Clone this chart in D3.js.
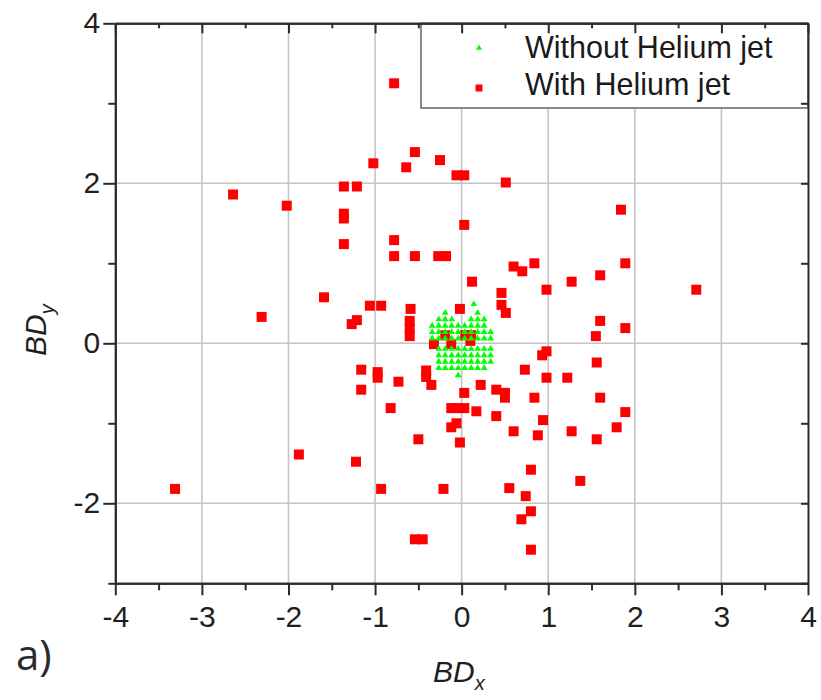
<!DOCTYPE html>
<html>
<head>
<meta charset="utf-8">
<script src="https://cdn.jsdelivr.net/npm/d3@7"></script>
<style>
  html, body { margin: 0; padding: 0; background: #fff; }
  svg { display: block; }
</style>
</head>
<body>
<svg id="chart" width="821" height="700"></svg>
<script>
// ---------------- DATA ----------------
const xTicks = [-4, -3, -2, -1, 0, 1, 2, 3, 4];
const yTicks = [-2, 0, 2, 4];
const xGrid = [-3, -2, -1, 0, 1, 2, 3];
const yGrid = [-2, 0, 2];
const seriesNames = ["Without Helium jet", "With Helium jet"];

// With Helium jet (red squares)
const redX = [-0.78, -2.64, -2.02, -1.36, -1.21, -1.36, -1.36, -1.36, -1.02, -0.54,
  -0.64, -0.25, -0.06, 0.03, 0.51, 0.03, -0.78, -0.78, -0.54, -0.27,
  -0.18, -1.59, -2.31, -1.06, -0.93, -1.27, -1.21, -0.59, -0.60, -0.60,
  -0.60, -0.02, 0.12, 0.46, 0.46, 0.51, -0.32, -0.12, 0.10, -0.19,
  0.04, 0.11, -0.41, -0.41, -0.35, -0.73, 0.03, 0.22, 0.40, 0.50,
  0.50, -1.16, -1.16, -0.97, -0.97, -0.12, -0.04, 0.03, -0.12, -0.06,
  -0.02, -0.82, -0.50, -1.88, -1.22, -3.31, -0.93, -0.21, -0.54, -0.45,
  0.98, 0.93, 1.56, 0.73, 0.98, 1.22, 0.84, 1.60, 0.17, 0.40,
  0.94, 1.89, 1.79, 0.60, 0.88, 1.27, 1.56, 0.80, 1.37, 0.55,
  0.74, 0.80, 0.69, 0.80, 1.84, 0.60, 0.70, 0.84, 1.89, 1.60,
  1.27, 0.98, 2.71, 1.60, 1.89, 1.55];
const redY = [3.25, 1.86, 1.72, 1.96, 1.96, 1.62, 1.56, 1.24, 2.25, 2.39,
  2.20, 2.29, 2.10, 2.10, 2.01, 1.48, 1.29, 1.09, 1.09, 1.09,
  1.09, 0.575, 0.33, 0.47, 0.47, 0.24, 0.29, 0.43, 0.28, 0.18,
  0.09, 0.43, 0.77, 0.63, 0.48, 0.38, -0.01, -0.01, 0.03, 0.10,
  0.10, 0.10, -0.34, -0.42, -0.52, -0.48, -0.62, -0.52, -0.58, -0.62,
  -0.68, -0.33, -0.58, -0.36, -0.43, -0.81, -0.81, -0.81, -1.05, -1.00,
  -1.24, -0.81, -1.20, -1.39, -1.48, -1.82, -1.82, -1.82, -2.45, -2.45,
  -0.10, -0.15, -0.24, -0.33, -0.43, -0.43, -0.68, -0.68, -0.85, -0.91,
  -0.96, -0.86, -1.05, -1.10, -1.15, -1.10, -1.20, -1.58, -1.72, -1.81,
  -1.91, -2.10, -2.20, -2.58, 1.67, 0.96, 0.90, 1.00, 1.00, 0.85,
  0.77, 0.67, 0.67, 0.28, 0.19, 0.09];

// Without Helium jet (green triangles) - read row by row
const greenX = [
  -0.19, 0.185,
  -0.265, -0.19, -0.115, 0.11, 0.185, 0.26,
  -0.34, -0.265, -0.19, -0.115, -0.04, 0.035, 0.11, 0.185, 0.26,
  -0.34, -0.265, -0.19, -0.115, -0.04, 0.035, 0.11, 0.185, 0.26, 0.335,
  -0.34, -0.265, -0.19, -0.115, -0.04, 0.035, 0.11, 0.185, 0.26, 0.335,
  -0.265, -0.19, -0.115, -0.04, 0.035, 0.11, 0.185, 0.26, 0.335,
  -0.265, -0.19, -0.115, -0.04, 0.035, 0.11, 0.185, 0.26, 0.335,
  -0.265, -0.19, -0.115, -0.04, 0.035, 0.11, 0.185, 0.26, 0.335,
  -0.265, -0.19, -0.115, -0.04, 0.035, 0.11, 0.185, 0.26,
  -0.04,
  0.14];
const greenY = [
  0.38, 0.38,
  0.30, 0.30, 0.30, 0.30, 0.30, 0.30,
  0.22, 0.22, 0.22, 0.22, 0.22, 0.22, 0.22, 0.22, 0.22,
  0.14, 0.14, 0.14, 0.14, 0.14, 0.14, 0.14, 0.14, 0.14, 0.14,
  0.06, 0.06, 0.06, 0.06, 0.06, 0.06, 0.06, 0.06, 0.06, 0.06,
  -0.07, -0.07, -0.07, -0.07, -0.07, -0.07, -0.07, -0.07, -0.07,
  -0.15, -0.15, -0.15, -0.15, -0.15, -0.15, -0.15, -0.15, -0.15,
  -0.23, -0.23, -0.23, -0.23, -0.23, -0.23, -0.23, -0.23, -0.23,
  -0.31, -0.31, -0.31, -0.31, -0.31, -0.31, -0.31, -0.31,
  -0.40,
  0.49];

// ---------------- CHART ----------------
const svg = d3.select("#chart");
const L = 115.3, R = 808, T = 23.3, B = 583.3;
const x = d3.scaleLinear().domain([-4, 4]).range([L, R]);
const y = d3.scaleLinear().domain([-3, 4]).range([B, T]);
const axisColor = "#2b2b2b";
const font = "'Liberation Sans', Arial, sans-serif";

// grid
const grid = svg.append("g");
grid.selectAll("line.gx").data(xGrid).join("line")
  .attr("x1", d => x(d)).attr("x2", d => x(d)).attr("y1", T).attr("y2", B)
  .attr("stroke", "#c4c4c4").attr("stroke-width", 1.6);
grid.selectAll("line.gy").data(yGrid).join("line")
  .attr("x1", L).attr("x2", R).attr("y1", d => y(d)).attr("y2", d => y(d))
  .attr("stroke", "#c4c4c4").attr("stroke-width", 1.6);

// red squares
const red = redX.map((v, i) => ({x: v, y: redY[i]}));
svg.append("g").selectAll("path").data(red).join("path")
  .attr("transform", d => `translate(${x(d.x)},${y(d.y)})`)
  .attr("d", d3.symbol(d3.symbolSquare, 100))
  .attr("fill", "#ff0000");

// green triangles
const green = greenX.map((v, i) => ({x: v, y: greenY[i]}));
svg.append("g").selectAll("path").data(green).join("path")
  .attr("transform", d => `translate(${x(d.x)},${y(d.y)})`)
  .attr("d", d3.symbol(d3.symbolTriangle, 20))
  .attr("fill", "#00ff00");

// legend
const lg = svg.append("g");
lg.append("rect").attr("x", 421).attr("y", T).attr("width", R - 421).attr("height", 108 - T)
  .attr("fill", "#fff").attr("stroke", "#6e6e6e").attr("stroke-width", 1.6);
lg.append("path").attr("d", d3.symbol(d3.symbolTriangle, 16)).attr("transform", "translate(479,48)")
  .attr("fill", "#00ff00");
lg.append("path").attr("d", d3.symbol(d3.symbolSquare, 49)).attr("transform", "translate(479,88)")
  .attr("fill", "#ff0000");
lg.selectAll("text").data(seriesNames).join("text")
  .attr("x", 525).attr("y", (d, i) => 58 + i * 37)
  .attr("font-family", font).attr("font-size", 30.5).attr("fill", "#1a1a1a")
  .text(d => d);

// axes
function styleAxis(g) {
  g.selectAll("path.domain").attr("stroke", axisColor).attr("stroke-width", 2);
  g.selectAll(".tick line").attr("stroke", axisColor).attr("stroke-width", 2);
  g.selectAll("text").attr("font-family", font).attr("font-size", 30).attr("fill", "#1f1f1f");
}
const xMinor = d3.range(-3.5, 4, 1);
const yMinor = [-3, -1, 1, 3];

// bottom
svg.append("g").attr("transform", `translate(0,${B})`)
  .call(d3.axisBottom(x).tickValues(xMinor).tickSize(7).tickFormat("").tickSizeOuter(0))
  .call(styleAxis);
svg.append("g").attr("transform", `translate(0,${B})`)
  .call(d3.axisBottom(x).tickValues(xTicks).tickSize(12).tickPadding(10).tickFormat(d3.format("d")).tickSizeOuter(0))
  .call(styleAxis)
  .call(g => g.selectAll("text").text(d => String(d).replace("\u2212", "-")));
// left
svg.append("g").attr("transform", `translate(${L},0)`)
  .call(d3.axisLeft(y).tickValues(yMinor).tickSize(7).tickFormat("").tickSizeOuter(0))
  .call(styleAxis);
svg.append("g").attr("transform", `translate(${L},0)`)
  .call(d3.axisLeft(y).tickValues(yTicks).tickSize(12).tickPadding(3).tickFormat(d => String(d)).tickSizeOuter(0))
  .call(styleAxis);
// top (inward ticks)
svg.append("g").attr("transform", `translate(0,${T})`)
  .call(d3.axisBottom(x).tickValues(xMinor).tickSize(5).tickFormat("").tickSizeOuter(0))
  .call(styleAxis);
svg.append("g").attr("transform", `translate(0,${T})`)
  .call(d3.axisBottom(x).tickValues(xTicks).tickSize(10).tickFormat("").tickSizeOuter(0))
  .call(styleAxis);
// right (inward ticks)
svg.append("g").attr("transform", `translate(${R},0)`)
  .call(d3.axisLeft(y).tickValues(yMinor.concat(yTicks)).tickSize(7).tickFormat("").tickSizeOuter(0))
  .call(styleAxis);

// axis titles
const xt = svg.append("text").attr("x", 433).attr("y", 682)
  .attr("font-family", font).attr("font-size", 30).attr("font-style", "italic").attr("fill", "#1f1f1f");
xt.append("tspan").text("BD");
xt.append("tspan").attr("font-size", 20).attr("dy", 8).text("x");

const yt = svg.append("text").attr("transform", "translate(46,356) rotate(-90)")
  .attr("font-family", font).attr("font-size", 30).attr("font-style", "italic").attr("fill", "#1f1f1f");
yt.append("tspan").text("BD");
yt.append("tspan").attr("font-size", 20).attr("dy", 8).text("y");

// panel label
svg.append("text").attr("x", 16).attr("y", 670)
  .attr("font-family", "'Open Sans', sans-serif").attr("font-size", 42).attr("fill", "#2a2a2a")
  .text("a)");
</script>
</body>
</html>
